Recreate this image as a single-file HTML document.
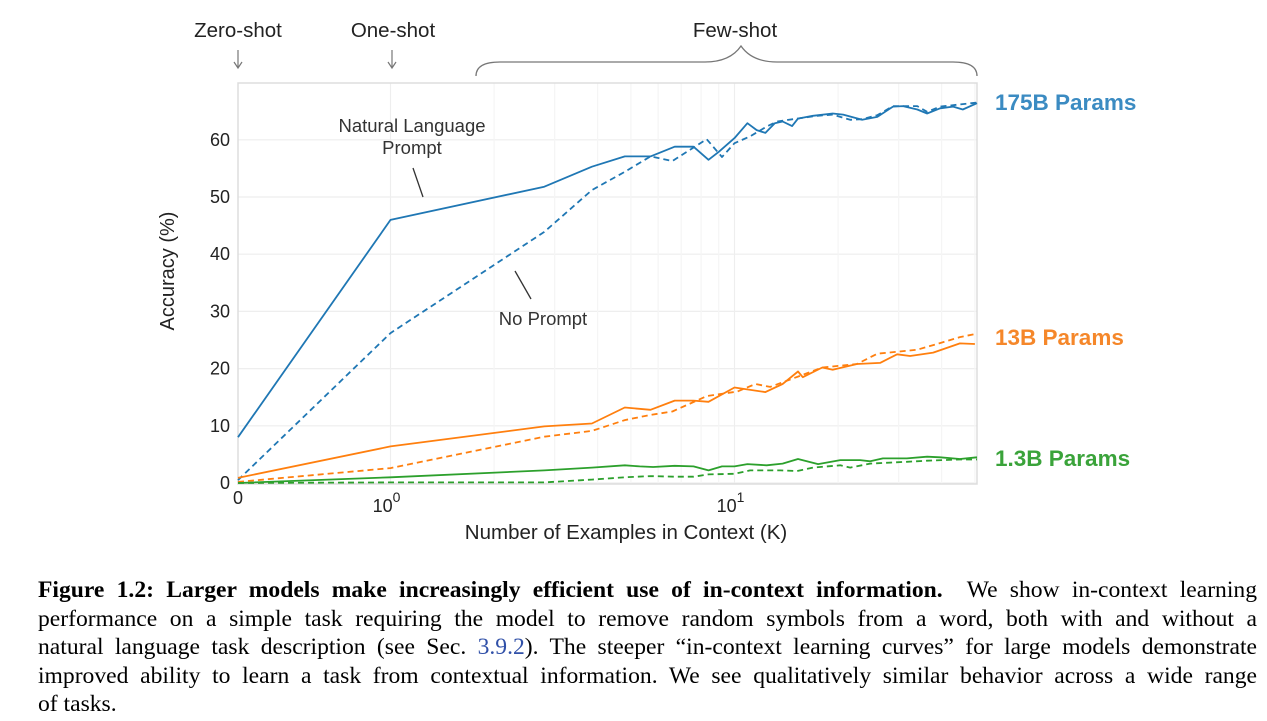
<!DOCTYPE html>
<html><head><meta charset="utf-8"><style>
body{margin:0;background:#fff;width:1267px;height:721px;overflow:hidden}
svg{position:absolute;left:0;top:0}
.cap{position:absolute;left:38px;top:576px;width:1219px;font-family:"Liberation Serif",serif;font-size:23.6px;line-height:28.6px;color:#000}
.cap .l{display:block;white-space:nowrap;text-align:justify;text-align-last:justify}
.cap .e{display:block;white-space:nowrap}
.cap a{color:#3050a8;text-decoration:none}
</style></head><body>
<svg id="chart" width="1267" height="570" font-family="Liberation Sans, sans-serif">
<g id="grid"></g>
<rect x="238" y="83" width="739" height="401" fill="none" stroke="#ddd" stroke-width="1.5"/>
<g id="series"></g>
<g id="axes" fill="#222" font-size="17"></g>
<text x="0" y="0" transform="translate(174,271) rotate(-90)" text-anchor="middle" font-size="20" fill="#222">Accuracy (%)</text>
<text x="626" y="539" text-anchor="middle" font-size="20.5" fill="#222">Number of Examples in Context  (K)</text>
<text x="238" y="37" text-anchor="middle" font-size="20.5" fill="#222">Zero-shot</text>
<path d="M238,50 V68 M234,62 L238,68 L242,62" fill="none" stroke="#777" stroke-width="1.2"/>
<text x="393" y="37" text-anchor="middle" font-size="20.5" fill="#222">One-shot</text>
<path d="M392,50 V68 M388,62 L392,68 L396,62" fill="none" stroke="#777" stroke-width="1.2"/>
<text x="735" y="37" text-anchor="middle" font-size="20.5" fill="#222">Few-shot</text>
<path d="M476,76 Q476,62 500,62 L705,62 Q730,62 741,46 Q752,62 777,62 L953,62 Q977,62 977,76" fill="none" stroke="#777" stroke-width="1.3"/>
<text x="412" y="132" text-anchor="middle" font-size="18.5" fill="#333"><tspan x="412" dy="0">Natural Language</tspan><tspan x="412" dy="22">Prompt</tspan></text>
<line x1="413" y1="168" x2="423" y2="197" stroke="#333" stroke-width="1.3"/>
<text x="543" y="325" text-anchor="middle" font-size="18.5" fill="#333">No Prompt</text>
<line x1="515" y1="271" x2="531" y2="299" stroke="#333" stroke-width="1.3"/>
<text x="995" y="110" font-size="22.5" font-weight="bold" fill="#3b8bc2">175B Params</text>
<text x="995" y="345" font-size="22.5" font-weight="bold" fill="#f5872a">13B Params</text>
<text x="995" y="466" font-size="22.5" font-weight="bold" fill="#3aa33a">1.3B Params</text>
</svg>
<div class="cap"><span class="l"><b>Figure 1.2: Larger models make increasingly efficient use of in-context information.</b>&nbsp; We show in-context learning</span><span class="l">performance on a simple task requiring the model to remove random symbols from a word, both with and without a</span><span class="l">natural language task description (see Sec. <a>3.9.2</a>). The steeper “in-context learning curves” for large models demonstrate</span><span class="l">improved ability to learn a task from contextual information. We see qualitatively similar behavior across a wide range</span><span class="e">of tasks.</span></div>
<script>
const yTicks=[0,10,20,30,40,50,60];
const kBlueP=[0,1,2.8,3.85,4.8,5.7,6.7,7.6,8.4,9,10,10.9,11.6,12.3,13.1,13.8,14.7,15.3,16.9,19.3,20.7,23.5,26,28.9,30.9,34,36.3,39.6,43.2,46.1,50.7];
const vBlueP=[8,46,51.8,55.3,57.1,57.1,58.8,58.8,56.5,57.9,60.3,62.9,61.7,61.2,62.9,63.2,62.4,63.7,64.2,64.6,64.4,63.5,64,65.8,65.9,65.3,64.6,65.5,65.8,65.3,66.4];
const kBlueN=[0,1,2.8,3.85,4.8,5.7,6.6,8.3,9.2,10,11.1,12.4,13.3,15.2,17.4,19.3,21.7,23.5,26,28.9,34,36.3,39.6,50.7];
const vBlueN=[0.5,26.2,43.9,51.2,54.4,57.1,56.3,60.1,57,59.4,60.6,62.3,63.2,63.7,64.2,64.4,63.5,63.6,64.3,65.9,65.9,64.9,65.8,66.5];
const kOrP=[0,1,2.8,3.85,4.8,5.7,6.7,7.6,8.4,10,12.3,13.8,15.3,15.8,18,19.3,22.7,26.5,29.7,32.4,37.8,45.2,50];
const vOrP=[0.9,6.4,9.9,10.4,13.2,12.8,14.4,14.4,14.2,16.7,15.9,17.3,19.5,18.5,20.2,19.8,20.8,21,22.5,22.2,22.8,24.4,24.3];
const kOrN=[0,1,2.8,3.85,4.8,5.7,6.6,8.3,10.2,11.5,12.7,15.3,18,22.7,26,34,37.8,45.2,50.7];
const vOrN=[0.2,2.6,8.1,9.1,11,11.9,12.5,15.2,16,17.3,16.8,18.6,20.2,20.8,22.6,23.3,24.1,25.5,26.1];
const kGrP=[0,1,2.8,3.85,4.8,5.3,5.8,6.7,7.6,8.4,9.2,10,10.9,12.4,13.8,15.3,17.5,20.3,23.2,24.8,27,31.7,36.3,39.6,45.2,50.7];
const vGrP=[0,1,2.2,2.7,3.1,2.9,2.8,3,2.9,2.2,2.9,2.9,3.3,3.1,3.4,4.2,3.3,4,4,3.8,4.3,4.3,4.6,4.5,4.2,4.5];
const kGrN=[0,1,2.8,3.85,4.8,5.7,6.7,7.6,8.4,10,11.1,13.6,15.2,16.9,20.3,21.7,24.8,31.7,36.3,45.2,50.7];
const vGrN=[0,0.1,0.1,0.6,1,1.2,1.1,1.1,1.5,1.6,2.2,2.2,2.1,2.7,3.1,2.7,3.4,3.7,3.9,4.1,4.1];
const NS='http://www.w3.org/2000/svg';
function xS(k){return k<1?238+k*152.5:390.5+344*Math.log10(k);}
function yS(v){return 483-v*5.72;}
const grid=document.getElementById('grid'),axes=document.getElementById('axes'),ser=document.getElementById('series');
function mk(t,a,p){const e=document.createElementNS(NS,t);for(const k in a)e.setAttribute(k,a[k]);p.appendChild(e);return e;}
yTicks.forEach(v=>{
 const l=mk('line',{x1:238,x2:977,y1:yS(v),y2:yS(v),stroke:'#eee','stroke-width':1.2},grid);
 
 
 const t=mk('text',{x:230,y:yS(v)+6,'text-anchor':'end','font-size':18},axes);t.textContent=v;
 
 
});
[2,3,4,5,6,7,8,9,10,20,30,40,50].forEach(k=>{
 const l=mk('line',{x1:xS(k),x2:xS(k),y1:83,y2:484,stroke:k===10?'#eee':'#f5f5f5','stroke-width':1.2},grid);
 
 
});
mk('line',{x1:xS(1),x2:xS(1),y1:83,y2:484,stroke:'#eee','stroke-width':1.2},grid);
let t=mk('text',{x:238,y:504,'text-anchor':'middle','font-size':18},axes);t.textContent='0';


[[1,'0'],[10,'1']].forEach(([k,e])=>{
 const g=mk('text',{x:xS(k)-4,y:512,'text-anchor':'middle','font-size':18},axes);
 g.innerHTML='10<tspan dy="-10" font-size="14">'+e+'</tspan>';
 
 
});
function line(ks,vs,col,dash,name){
 const d=ks.map((k,i)=>(i?'L':'M')+xS(k).toFixed(1)+','+yS(vs[i]).toFixed(1)).join('');
 const p=mk('path',{d:d,fill:'none',stroke:col,'stroke-width':1.8,'stroke-linejoin':'round'},ser);
 if(dash)p.setAttribute('stroke-dasharray','6,4');
 
 
}
line(kBlueP,vBlueP,'#1f77b4',false,'line-175b-prompt');
line(kBlueN,vBlueN,'#1f77b4',true,'line-175b-no-prompt');
line(kOrP,vOrP,'#ff7f0e',false,'line-13b-prompt');
line(kOrN,vOrN,'#ff7f0e',true,'line-13b-no-prompt');
line(kGrP,vGrP,'#2ca02c',false,'line-1-3b-prompt');
line(kGrN,vGrN,'#2ca02c',true,'line-1-3b-no-prompt');
</script>
</body></html>
